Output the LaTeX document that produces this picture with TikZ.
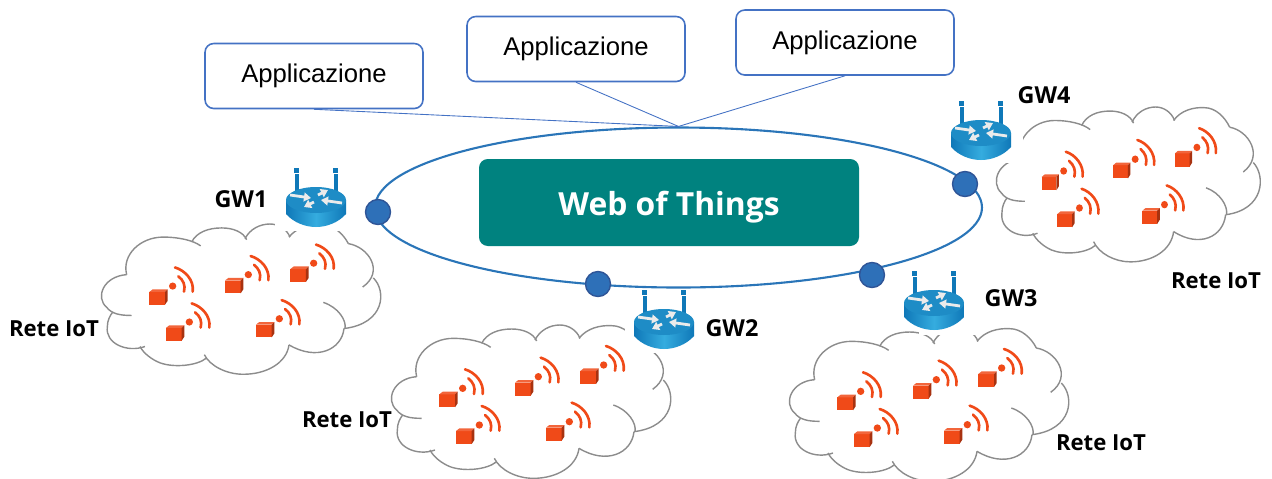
\documentclass[tikz,border=0pt]{standalone}
\usepackage{fontspec}
\setmainfont{Liberation Sans}
\newfontfamily\labelfont{Open Sans}
\usetikzlibrary{shapes.geometric,arrows.meta}
\definecolor{ringblue}{HTML}{2A75B8}
\definecolor{boxblue}{HTML}{4472C4}
\definecolor{dotblue}{HTML}{2E70B8}
\definecolor{dotedge}{HTML}{2F5597}
\definecolor{wotteal}{HTML}{00827F}
\definecolor{thingred}{HTML}{F04A18}
\definecolor{thingdark}{HTML}{A83210}
\definecolor{routertop}{HTML}{1E8CC6}
\definecolor{routerlight}{HTML}{35ACDF}
\definecolor{routerdark}{HTML}{0F78B8}
\tikzset{
	appbox/.style={draw=boxblue, line width=0.9pt, rounded corners=5pt, fill=white, minimum width=218*0.02cm, minimum height=65*0.02cm, font=\fontsize{14.6}{17}\selectfont},
	gwlabel/.style={font=\labelfont\bfseries\fontsize{13.3}{15}\selectfont},
	netlabel/.style={font=\labelfont\bfseries\fontsize{12.6}{15}\selectfont},
	gwdot/.style={circle, draw=dotedge, fill=dotblue, line width=0.8pt, minimum size=25*0.02cm, inner sep=0pt},
	applink/.style={draw=boxblue, line width=0.5pt},
	cloudline/.style={draw=black!45, line width=0.8pt},
	waveline/.style={draw=thingred, line width=1.5pt, line cap=round},
	routerarrow/.style={draw=black!8, line width=1.6pt, -{Triangle[length=4pt,width=5pt]}}
}
% one cube with its radio waves
\def\iotthing(#1,#2){
	\begin{scope}[shift={(#1,#2)}]
		\fill[thingred] (-27,-17) rectangle (20,22);
		\fill[thingred!85!white] (-27,-17) -- (-17,-25) -- (28,-25) -- (20,-17) -- cycle;
		\fill[thingdark] (20,-17) -- (28,-25) -- (28,10) -- (20,22) -- cycle;
		\fill[thingred] (43,-35) circle (11);
		\draw[waveline] (60,-65) .. controls (75,-53) and (82,-38) .. (77,-18);
		\draw[waveline] (50,-92) .. controls (80,-83) and (108,-53) .. (103,-18);
	\end{scope}
}
% cloud with five things, drawn in 3x units
\def\iotcloud(#1,#2)(#3,#4){
	\begin{scope}[shift={(#1,#2)}, xscale=#3/3, yscale=#4/3, shift={(-30,-195)}]
		\draw[cloudline] (110,350) .. controls (95,290) and (150,235) .. (220,235) .. controls (265,235) and (310,245) .. (332,262);
		\draw[cloudline] (305,250) .. controls (320,220) and (355,207) .. (395,207) .. controls (430,207) and (460,220) .. (470,243);
		\draw[cloudline] (465,240) .. controls (480,210) and (510,195) .. (540,195) .. controls (565,195) and (590,210) .. (600,235);
		\draw[cloudline] (597,235) .. controls (620,205) and (660,195) .. (695,197) .. controls (730,197) and (760,225) .. (775,255);
		\draw[cloudline] (775,255) .. controls (835,265) and (885,340) .. (818,388);
		\draw[cloudline] (850,360) .. controls (890,400) and (885,500) .. (762,515);
		\draw[cloudline] (700,435) .. controls (745,450) and (770,490) .. (765,515);
		\draw[cloudline] (762,515) .. controls (755,580) and (680,615) .. (597,565);
		\draw[cloudline] (597,565) .. controls (590,620) and (530,655) .. (460,655) .. controls (410,655) and (360,630) .. (343,595);
		\draw[cloudline] (350,605) .. controls (320,630) and (250,635) .. (210,620) .. controls (185,610) and (160,590) .. (150,570);
		\draw[cloudline] (165,570) .. controls (110,590) and (45,560) .. (52,510) .. controls (52,490) and (60,475) .. (68,465);
		\draw[cloudline] (125,475) .. controls (90,475) and (65,470) .. (50,450) .. controls (15,420) and (40,355) .. (110,350);
		\iotthing(205,420)
		\iotthing(432,385)
		\iotthing(628,350)
		\iotthing(255,530)
		\iotthing(525,520)
	\end{scope}
}
% gateway icon, centre of the top face at the given point, then its white mask
\def\iotrouter(#1,#2)(#3,#4)(#5,#6){
	\begin{scope}[shift={(#1,#2)}]
		\fill[white] (#3,#4) rectangle (#5,#6);
		\fill[routerdark] (-21.5,-26) rectangle (-17.5,-9);
		\fill[routerdark] (17.5,-26) rectangle (21.5,-9);
		\fill[routerdark] (-22,-32) rectangle (-17,-27);
		\fill[routerdark] (17,-32) rectangle (22,-27);
		\path[left color=routerdark, right color=routerdark, middle color=routerlight] (-30,0) -- (-30,14) .. controls (-22,23) and (-10,27) .. (0,27) .. controls (10,27) and (22,23) .. (30,14) -- (30,0) -- cycle;
		\fill[routertop] (0,0) ellipse[x radius=30, y radius=13];
		\draw[routerarrow] (-26,-5) -- (-5,-2);
		\draw[routerarrow] (26,3) -- (5,0);
		\draw[routerarrow] (2,-5) -- (12,-10);
		\draw[routerarrow] (-2,2) -- (-12,7);
	\end{scope}
}

\begin{document}
\begin{tikzpicture}[x=0.02cm, y=-0.02cm]
	\useasboundingbox (0,0) rectangle (1272,478);
	%%%%% clouds and gateways %%%%%
	\iotcloud(100,224)(1,0.98)
	\iotcloud(390,325)(1,1)
	\iotcloud(788,328)(1,1)
	\iotcloud(995,107)(0.945,1.01)
	
	\iotrouter(316,200)(-41,-35)(34,31)
	\iotrouter(664,322)(-39,-35)(35,31)
	\iotrouter(934,303)(-15,-35)(43,32)
	\iotrouter(981,133)(-34,-35)(42,30)
	
	%%%%% ring %%%%%
	\node[ellipse, draw=ringblue, line width=1.2pt, minimum width=607*0.02cm, minimum height=160*0.02cm, inner sep=0pt] (ring) at (678.5,207.5) {};
	\node[fill=wotteal, rounded corners=5pt, minimum width=380*0.02cm, minimum height=87*0.02cm, text=white, text height=18.6pt, font=\labelfont\bfseries\fontsize{18.1}{22}\selectfont] (wot) at (669,202.5) {Web of Things};
	\node[gwdot] (dot1) at (378,212) {};
	\node[gwdot] (dot2) at (598,284) {};
	\node[gwdot] (dot3) at (872,275) {};
	\node[gwdot] (dot4) at (965,184) {};
	
	%%%%% applications %%%%%
	\node[appbox] (app1) at (314,76) {Applicazione};
	\node[appbox] (app2) at (576,49) {Applicazione};
	\node[appbox] (app3) at (845,42.5) {Applicazione};
	\draw[applink] (app1.south) -- (ring.north);
	\draw[applink] (app2.south) -- (ring.north);
	\draw[applink] (app3.south) -- (ring.north);
	
	%%%%% labels %%%%%
	\node[gwlabel] (gw1) at (241,199) {GW1};
	\node[gwlabel] (gw2) at (732,328) {GW2};
	\node[gwlabel] (gw3) at (1011,298) {GW3};
	\node[gwlabel] (gw4) at (1044,95) {GW4};
	\node[netlabel] (net1) at (54,329) {Rete IoT};
	\node[netlabel] (net2) at (347,420) {Rete IoT};
	\node[netlabel] (net3) at (1101,443) {Rete IoT};
	\node[netlabel] (net4) at (1216,281) {Rete IoT};
\end{tikzpicture}
\end{document}
